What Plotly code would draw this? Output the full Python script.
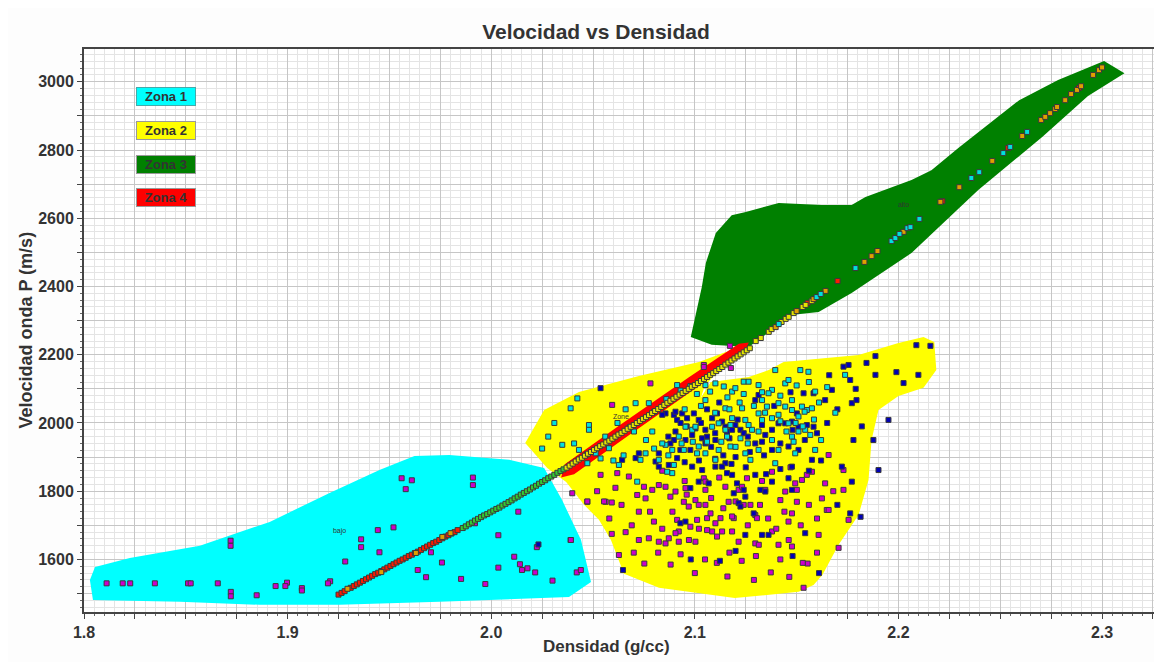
import plotly.graph_objects as go

# ---------------- zone outlines (density g/cc, velocity m/s) ----------------
zona1_x = [1.8029, 1.8054, 1.8225, 1.8569, 1.8912, 1.9206, 1.9451, 1.9623, 1.9794, 2.0088, 2.0260,
           2.0348, 2.0441, 2.0490, 2.0382, 2.0137, 1.9745, 1.9255, 1.8863, 1.8471, 1.8044]
zona1_y = [1540, 1578, 1604, 1640, 1710, 1795, 1862, 1903, 1906, 1892, 1868,
           1774, 1657, 1534, 1490, 1484, 1476, 1467, 1467, 1476, 1481]

zona2_x = [2.0167, 2.0260, 2.0431, 2.0725, 2.1020, 2.1152, 2.1206, 2.1049, 2.1029, 2.1078, 2.1265,
           2.1363, 2.1436, 2.1804, 2.2000, 2.2123, 2.2176, 2.2186, 2.2123, 2.2000, 2.1902, 2.1868,
           2.1853, 2.1804, 2.1706, 2.1627, 2.1583, 2.1510, 2.1196, 2.0824, 2.0652, 2.0588, 2.0529,
           2.0456, 2.0368, 2.0275]
zona2_y = [1941, 2038, 2091, 2138, 2179, 2208, 2214, 2108, 2073, 2120, 2135,
           2155, 2179, 2199, 2234, 2252, 2237, 2155, 2103, 2079, 2038, 1950,
           1833, 1730, 1643, 1555, 1525, 1505, 1487, 1517, 1558, 1657, 1716,
           1760, 1827, 1868]

zona3_x = [2.0980, 2.1005, 2.1034, 2.1054, 2.1103, 2.1181, 2.1250, 2.1412, 2.1623, 2.1770, 2.1838,
           2.2064, 2.2162, 2.2294, 2.2593, 2.2784, 2.3010, 2.3110, 2.2931, 2.2706, 2.2392, 2.2064,
           2.1770, 2.1608, 2.1461, 2.1377, 2.1265, 2.1083]
zona3_y = [2252, 2316, 2398, 2469, 2557, 2609, 2618, 2645, 2639, 2639, 2662,
           2712, 2741, 2806, 2946, 3005, 3061, 3025, 2958, 2838, 2683, 2498,
           2381, 2325, 2316, 2272, 2223, 2229]

zona4_x = [2.0343, 2.0363, 2.0627, 2.0971, 2.1216, 2.1265, 2.1245, 2.1020, 2.0676, 2.0407]
zona4_y = [1840, 1880, 1992, 2134, 2232, 2236, 2208, 2108, 1964, 1850]

zone_names = ["Zona 1", "Zona 2", "Zona 3", "Zona 4"]
zone_colors = ["#00ffff", "#ffff00", "#008000", "#ff0000"]
zone_borders = ["#44aaaa", "#999999", "#999999", "#999999"]

# ---------------- trend of points (coloured by class) ----------------
trend_red_x = [1.925, 1.9265, 1.928, 1.931, 1.9325, 1.934, 1.9355, 1.937, 1.9385, 1.940, 1.9415, 1.943,
               1.9445, 1.946, 1.9475, 1.949, 1.9505, 1.952, 1.9535, 1.955, 1.9565, 1.958, 1.9595, 1.961,
               1.9625, 1.964, 1.9655, 1.967, 1.9685, 1.970, 1.9715, 1.973, 1.9745, 1.976, 1.9775, 1.979,
               1.9805, 1.982, 1.9835,
               2.1554, 2.1701, 2.2216, 2.2539, 2.2887]
trend_red_y = [1497, 1502, 1507, 1517, 1522, 1527, 1532, 1537, 1542, 1547, 1552, 1557,
               1561, 1566, 1571, 1576, 1581, 1586, 1591, 1596, 1600, 1605, 1610, 1614,
               1619, 1623, 1628, 1633, 1638, 1643, 1648, 1652, 1657, 1662, 1667, 1671,
               1676, 1680, 1686,
               2352, 2416, 2650, 2806, 2982]

trend_orange_x = [1.9294, 1.946, 1.963, 1.976, 1.980,
                  2.1397, 2.1500, 2.1583, 2.1642, 2.1833, 2.1868, 2.1897, 2.2025, 2.2206, 2.2299,
                  2.2461, 2.2608, 2.2701, 2.2721, 2.2745, 2.2770, 2.2779, 2.2819, 2.2848, 2.2877,
                  2.2897, 2.2956, 2.2985, 2.3000]
trend_orange_y = [1514, 1563, 1619, 1666, 1677,
                  2281, 2328, 2363, 2387, 2472, 2489, 2504, 2560, 2648, 2691,
                  2768, 2841, 2888, 2897, 2908, 2920, 2926, 2946, 2964, 2976,
                  2987, 3020, 3034, 3042]

trend_green_x = [1.986, 1.9875, 1.989, 1.9905, 1.992, 1.9935, 1.995, 1.9965, 1.998, 1.9995, 2.001, 2.0025,
                 2.004, 2.0055, 2.007, 2.0085, 2.010, 2.0115, 2.013, 2.0145, 2.016, 2.0175, 2.019, 2.0205,
                 2.022, 2.0235, 2.025, 2.0265, 2.028, 2.0295, 2.031, 2.0325, 2.034, 2.0355,
                 2.047, 2.068, 2.080]
trend_green_y = [1692, 1697, 1703, 1708, 1714, 1719, 1724, 1729, 1733, 1738, 1743, 1748,
                 1752, 1758, 1763, 1768, 1773, 1779, 1784, 1790, 1795, 1800, 1805, 1811,
                 1816, 1822, 1827, 1832, 1838, 1843, 1848, 1854, 1859, 1864,
                 1908, 1987, 2033]

trend_yellow_x = [2.037, 2.0385, 2.040, 2.0415, 2.043, 2.0445, 2.046, 2.0475, 2.049, 2.0505, 2.052, 2.0535,
                  2.055, 2.0565, 2.058, 2.0595, 2.061, 2.0625, 2.064, 2.0655, 2.067, 2.0685, 2.070, 2.0715,
                  2.073, 2.0745, 2.076, 2.0775, 2.079, 2.0805, 2.082, 2.0835, 2.085, 2.0865, 2.088, 2.0895,
                  2.091, 2.0925, 2.094, 2.0955, 2.097, 2.0985, 2.100, 2.1015, 2.103, 2.1045, 2.106, 2.1075,
                  2.109, 2.1105, 2.112, 2.1135, 2.115, 2.1165, 2.118, 2.1195, 2.121, 2.1225, 2.124, 2.1255,
                  2.127,
                  2.1299, 2.1324, 2.1363, 2.1377, 2.1426, 2.1446, 2.1461, 2.1485, 2.1529, 2.1544, 2.1574]
trend_yellow_y = [1869, 1875, 1881, 1887, 1893, 1898, 1904, 1910, 1915, 1921, 1926, 1932,
                  1937, 1943, 1948, 1954, 1960, 1966, 1971, 1977, 1983, 1989, 1994, 2000,
                  2006, 2012, 2017, 2023, 2029, 2035, 2041, 2047, 2053, 2059, 2065, 2071,
                  2077, 2083, 2088, 2094, 2100, 2106, 2111, 2117, 2123, 2129, 2135, 2141,
                  2146, 2152, 2158, 2164, 2171, 2177, 2183, 2189, 2195, 2201, 2207, 2213,
                  2219,
                  2240, 2249, 2267, 2275, 2296, 2305, 2311, 2322, 2340, 2346, 2357]

trend_cyan_x = [2.1412, 2.1598, 2.1618, 2.1789, 2.1966, 2.1985, 2.2005, 2.2044, 2.2059, 2.2103,
                2.2358, 2.2397, 2.2515, 2.2549, 2.2632]
trend_cyan_y = [2290, 2369, 2378, 2454, 2533, 2542, 2554, 2571, 2574, 2598,
                2718, 2735, 2791, 2809, 2853]

# ---------------- clouds ----------------
cyan_x = [2.0423, 2.0390, 2.0480, 2.0480, 2.0407, 2.0349, 2.0431, 2.0513, 2.0537, 2.0472, 2.0578, 2.0627,
          2.0701, 2.0709, 2.0774, 2.0791, 2.0758, 2.0733, 2.0717, 2.0823, 2.0856, 2.0889, 2.0840, 2.0913,
          2.0978, 2.1052, 2.1052, 2.1101, 2.1142, 2.1183, 2.1199, 2.1240, 2.1264, 2.1313, 2.1379, 2.1395,
          2.1444, 2.1460, 2.1518, 2.1558, 2.1591, 2.1575, 2.1550, 2.1509, 2.1460, 2.1411, 2.1379, 2.1330,
          2.1281, 2.1232, 2.1224, 2.1313, 2.1379, 2.1411, 2.1477, 2.1485, 2.1509, 2.1591, 2.1395, 2.1273,
          2.1248, 2.1117, 2.1101, 2.1052, 2.1019, 2.0987, 2.0954, 2.1003, 2.0921, 2.0946, 2.0897, 2.0889,
          2.0864, 2.1738, 2.1011, 2.1150, 2.1175, 2.1183, 2.1248, 2.1264, 2.1313, 2.1330, 2.1354, 2.1362,
          2.1411, 2.1444, 2.1477, 2.1526, 2.1539, 2.1477, 2.1542, 2.1567, 2.1493, 2.1313, 2.1117, 2.1150,
          2.1085, 2.1158, 2.1175, 2.0280, 2.0250, 2.0310,
          2.0930, 2.1010, 2.1075, 2.1160, 2.1220, 2.1290, 2.1345, 2.1420, 2.1495, 2.1530, 2.1585, 2.1610,
          2.1620, 2.1450, 2.1260, 2.1200, 2.1130, 2.1060, 2.0990, 2.0935, 2.0870, 2.0800, 2.0760, 2.0650,
          2.0600, 2.0560, 2.0620, 2.0660, 2.0860, 2.0950, 2.1030, 2.1100, 2.1170, 2.1240, 2.1330, 2.1420,
          2.1500, 2.1560, 2.1650, 2.1690]
cyan_y = [2072, 2043, 1994, 1980, 1940, 1936, 1921, 1911, 1896, 1882, 1926, 1877,
          1975, 2058, 2058, 1975, 1911, 1892, 1828, 1892, 1936, 1921, 1940, 2111,
          2108, 2111, 2067, 2116, 2107, 2092, 2102, 2121, 2121, 2111, 2097, 2155,
          2116, 2126, 2155, 2150, 2092, 2043, 2038, 2019, 1999, 2024, 2014, 2009,
          1980, 2043, 1955, 1975, 1950, 1921, 1960, 1945, 1975, 1921, 1882, 1892,
          1911, 1921, 1892, 1911, 1931, 1980, 1989, 1989, 1960, 1921, 1877, 1853,
          1857, 2141, 1911, 1980, 1994, 2014, 2009, 1994, 2028, 2067, 2048, 2087,
          2058, 2048, 2067, 2048, 2033, 2038, 1980, 1965, 1911, 1921, 1999, 2043,
          1989, 1960, 1931, 1960, 1925, 2000,
          2095, 2085, 2092, 2075, 2060, 2050, 2030, 2005, 2000, 1990, 2010, 2060,
          1950, 1975, 1940, 1930, 1945, 1945, 1945, 1940, 1905, 1925, 1950, 1905,
          1890, 1960, 2000, 2040, 2070, 2040, 2050, 2030, 2040, 2085, 2090, 2080,
          2110, 2120, 2105, 2030]

blue_x = [2.0537, 2.0856, 2.0897, 2.0938, 2.0913, 2.0962, 2.0995, 2.1019, 2.1003, 2.1052, 2.1060, 2.1085,
          2.1109, 2.1134, 2.1150, 2.1158, 2.1183, 2.1199, 2.1224, 2.1240, 2.1101, 2.1052, 2.1036, 2.0987,
          2.0954, 2.0905, 2.0897, 2.0880, 2.0929, 2.0978, 2.1313, 2.1297, 2.1330, 2.1346, 2.1379, 2.1411,
          2.1444, 2.1477, 2.1501, 2.1509, 2.1550, 2.1583, 2.1534, 2.1583, 2.1640, 2.1673, 2.1771, 2.1730,
          2.1755, 2.1763, 2.1722, 2.1771, 2.1763, 2.0954, 2.0929, 2.1215, 2.1248, 2.1330, 2.1289, 2.1362,
          2.1542, 2.1068, 2.1158, 2.1183, 2.1207, 2.1240, 2.1248, 2.1224, 2.1191, 2.1150, 2.1134, 2.1101,
          2.1036, 2.0987, 2.0913, 2.0872, 2.0823, 2.1297, 2.1322, 2.1346, 2.1379, 2.1477, 2.1460, 2.1477,
          2.1575, 2.1509, 2.1460, 2.1379, 2.1297, 2.1330, 2.1019, 2.0978, 2.0643, 2.0709, 2.0725, 2.0807,
          2.0823, 2.0840, 2.0905, 2.1843, 2.1887, 2.1887, 2.1990, 2.2088, 2.2157, 2.2025, 2.2098, 2.1794,
          2.1951, 2.1877, 2.1902, 2.1814, 2.1779, 2.0232, 2.0647, 2.1123,
          2.0960, 2.1030, 2.1100, 2.1170, 2.1210, 2.1260, 2.1080, 2.1140, 2.1200, 2.1270, 2.1340, 2.1420,
          2.1480, 2.1540, 2.1600, 2.1650, 2.1700, 2.1620, 2.1560, 2.1420, 2.1350, 2.1250, 2.1180, 2.1100,
          2.1020, 2.0950, 2.0870, 2.0930, 2.1060, 2.1120, 2.1390, 2.1470, 2.1660, 2.1790, 2.1820, 2.1700,
          2.1480, 2.1200, 2.0980, 2.1610]
blue_y = [2102, 2028, 2024, 2028, 2009, 2014, 2028, 2009, 1984, 1980, 1960, 2014,
          2028, 2004, 1989, 1975, 1980, 1994, 1980, 1970, 1950, 1940, 1955, 1965,
          1950, 1975, 1950, 1940, 1921, 1921, 2082, 2067, 1994, 1965, 1980, 1999,
          1999, 2004, 2028, 1989, 1994, 1989, 2087, 2087, 2067, 2097, 2058, 2165,
          2170, 2126, 1872, 1828, 1735, 1711, 1706, 1765, 1672, 1672, 1735, 1672,
          1677, 1823, 1853, 1848, 1823, 1804, 1784, 1755, 1794, 1882, 1872, 1872,
          1862, 1872, 1897, 1877, 1872, 1848, 1804, 1799, 1828, 1804, 1838, 1872,
          1892, 1921, 1931, 1921, 1940, 1945, 1828, 1809, 1892, 1897, 1911, 1887,
          1911, 2024, 2033, 2176, 2196, 2141, 2149, 2228, 2226, 2117, 2141, 2067,
          2009, 1950, 1862, 1725, 1950, 1644, 1569, 1596,
          1990, 2000, 1970, 1955, 2010, 1960, 1930, 1905, 1900, 1915, 1905, 1940,
          1980, 1950, 1970, 2000, 2040, 1890, 1860, 1865, 1850, 1870, 1880, 1895,
          1890, 1885, 1960, 2000, 2040, 2060, 2050, 2090, 2140, 2100, 1990, 1760,
          1610, 1625, 1600, 1560]

magenta_x = [2.0782, 2.1044, 2.0594, 2.0398, 2.0537, 2.0619, 2.0562, 2.0472, 2.0390, 2.0676, 2.0717, 2.0725,
             2.0750, 2.0758, 2.0791, 2.0799, 2.0823, 2.0856, 2.0880, 2.0905, 2.0913, 2.0921, 2.0946, 2.0954,
             2.0970, 2.1003, 2.1011, 2.1019, 2.1044, 2.1052, 2.1052, 2.1060, 2.1077, 2.1085, 2.1101, 2.1109,
             2.1126, 2.1150, 2.1166, 2.1183, 2.1191, 2.1215, 2.1232, 2.1240, 2.1256, 2.1273, 2.1297, 2.1305,
             2.1346, 2.1379, 2.1420, 2.1444, 2.1460, 2.1477, 2.1493, 2.1501, 2.1526, 2.1550, 2.1575, 2.1624,
             2.1648, 2.1657, 2.1730, 2.0774, 2.0823, 2.0856, 2.0872, 2.0905, 2.0921, 2.0978, 2.1003, 2.1060,
             2.1134, 2.1183, 2.1215, 2.1297, 2.1379, 2.1411, 2.1477, 2.1501, 2.1640, 2.1052, 2.0752, 2.0881,
             2.1108, 2.1230, 2.1373, 2.1464, 2.1534, 2.1554, 2.0725, 2.0971, 2.1314, 2.1461, 2.1608, 2.1706,
             2.1755, 2.1657, 2.1730, 2.0627, 2.0554, 2.0592, 2.0592, 2.1172, 2.1044, 2.1177,
             2.0640, 2.0690, 2.0780, 2.0840, 2.0890, 2.0960, 2.1020, 2.1080, 2.1140, 2.1200, 2.1260, 2.1320,
             2.1360, 2.1400, 2.1440, 2.1520, 2.1560, 2.1600, 2.1680, 2.1600, 2.1530, 2.1420, 2.1300, 2.1170,
             2.1050, 2.0930, 2.0820, 2.0700, 2.0660, 2.0580, 2.0520, 2.0610, 2.1000, 2.1160, 2.1290, 2.0950,
             2.1120, 2.1330, 2.1470, 2.0840,
             # zona 1 area
             1.9443, 1.9520, 1.9361, 1.9361, 1.9451, 1.9283, 1.8997, 1.8989, 1.9070, 1.9070, 1.9209, 1.9198,
             1.9704, 1.9758, 1.9639, 1.9680, 1.9920, 2.0133, 2.0035, 2.0113, 2.0141, 2.0151, 2.0178, 2.0216,
             2.0224, 2.0035, 1.9852, 1.9971, 2.0301, 2.0391, 2.0420, 2.0440, 2.0472, 1.8111, 1.8190, 1.8227,
             1.8348, 1.8511, 1.8524, 1.8657, 1.8721, 1.8721, 1.8848, 1.8941, 1.8720, 1.8720, 1.9560, 1.9610,
             1.9580, 1.9910, 1.9910]
magenta_y = [2116, 2170, 2053, 1794, 1848, 1853, 1769, 1769, 1657, 1843, 1789, 1740,
             1813, 1779, 1804, 1711, 1818, 1813, 1784, 1799, 1716, 1682, 1769, 1809,
             1755, 1774, 1716, 1760, 1838, 1804, 1760, 1721, 1735, 1682, 1706, 1667,
             1721, 1813, 1769, 1682, 1721, 1804, 1813, 1760, 1838, 1760, 1730, 1721,
             1804, 1857, 1774, 1799, 1711, 1735, 1823, 1804, 1833, 1848, 1857, 1779,
             1745, 1906, 1862, 1662, 1652, 1647, 1662, 1677, 1652, 1696, 1652, 1686,
             1682, 1726, 1652, 1647, 1682, 1643, 1638, 1769, 1823, 1828, 1588, 1585,
             1590, 1596, 1562, 1549, 1517, 1588, 1657, 1657, 1643, 1657, 1672, 1634,
             1716, 1745, 1804, 1613, 1770, 1675, 1767, 2226, 2164, 2161,
             1760, 1700, 1740, 1690, 1740, 1790, 1690, 1780, 1750, 1770, 1700, 1760,
             1720, 1690, 1740, 1700, 1760, 1720, 1800, 1620, 1590, 1600, 1610, 1620,
             1600, 1615, 1620, 1620, 1680, 1720, 1800, 1810, 1560, 1550, 1540, 1830,
             1840, 1830, 1870, 1860,
             1686, 1694, 1659, 1636, 1621, 1594, 1532, 1522, 1516, 1509, 1536, 1530,
             1621, 1591, 1569, 1548, 1706, 1740, 1671, 1608, 1586, 1569, 1574, 1562,
             1636, 1576, 1543, 1528, 1538, 1657, 1562, 1569, 1770, 1530, 1530, 1530,
             1530, 1530, 1530, 1530, 1505, 1492, 1495, 1522, 1655, 1640, 1838, 1832,
             1806, 1840, 1818]

# ---------------- small map labels ----------------
label_text = ["bajo", "Zone", "alto"]
label_x = [1.9255, 2.0637, 2.2025]
label_y = [1683, 2018, 2639]

# ---------------- axis ticks ----------------
x_tickvals = [1.8, 1.825, 1.85, 1.875, 1.9, 1.925, 1.95, 1.975, 2.0, 2.025, 2.05, 2.075,
              2.1, 2.125, 2.15, 2.175, 2.2, 2.225, 2.25, 2.275, 2.3, 2.325]
x_ticktext = ["1.8", "", "", "", "1.9", "", "", "", "2.0", "", "", "",
              "2.1", "", "", "", "2.2", "", "", "", "2.3", ""]
y_tickvals = [1500, 1600, 1700, 1800, 1900, 2000, 2100, 2200, 2300, 2400, 2500, 2600, 2700, 2800, 2900, 3000]
y_ticktext = ["", "1600", "", "1800", "", "2000", "", "2200", "", "2400", "", "2600", "", "2800", "", "3000"]

FONT = "Arial, Liberation Sans, sans-serif"
TXT = "#333333"

fig = go.Figure()

for xs, ys, col in [(zona1_x, zona1_y, zone_colors[0]), (zona2_x, zona2_y, zone_colors[1]),
                    (zona3_x, zona3_y, zone_colors[2]), (zona4_x, zona4_y, zone_colors[3])]:
    fig.add_trace(go.Scatter(x=xs + xs[:1], y=ys + ys[:1], mode="lines", fill="toself",
                             fillcolor=col, line=dict(width=0, color=col),
                             hoverinfo="skip", showlegend=False))


def pts(xs, ys, col):
    fig.add_trace(go.Scatter(x=xs, y=ys, mode="markers", showlegend=False,
                             marker=dict(symbol="square", size=5, color=col,
                                         line=dict(width=1, color="#3a3a3a"))))


pts(magenta_x, magenta_y, "#cc00cc")
pts(blue_x, blue_y, "#0000b8")
pts(cyan_x, cyan_y, "#00e0e0")
pts(trend_red_x, trend_red_y, "#ff1a00")
pts(trend_green_x, trend_green_y, "#33cc33")
pts(trend_yellow_x, trend_yellow_y, "#e6e600")
pts(trend_orange_x, trend_orange_y, "#e0a000")
pts(trend_cyan_x, trend_cyan_y, "#00e0e0")

fig.add_trace(go.Scatter(x=label_x, y=label_y, mode="text", text=label_text, showlegend=False,
                         textfont=dict(family=FONT, size=7, color="#333333")))

annotations = []
legend_y = [0.9157, 0.8561, 0.7957, 0.7362]
for name, col, bcol, ly in zip(zone_names, zone_colors, zone_borders, legend_y):
    annotations.append(dict(xref="paper", yref="paper", x=0.0765, y=ly, xanchor="center", yanchor="middle",
                            text="<b>" + name + "</b>",
                            showarrow=False, bgcolor=col, bordercolor=bcol, borderwidth=1,
                            borderpad=1, width=56, height=15,
                            font=dict(family=FONT, size=13, color=TXT)))
annotations.append(dict(xref="paper", yref="paper", x=-0.055, y=0.5, xanchor="center", yanchor="middle",
                        textangle=-90, text="<b>Velocidad onda P (m/s)</b>", showarrow=False,
                        font=dict(family=FONT, size=18, color=TXT)))
annotations.append(dict(xref="paper", yref="paper", x=0.488, y=-0.062, xanchor="center", yanchor="middle",
                        text="<b>Densidad (g/cc)</b>", showarrow=False,
                        font=dict(family=FONT, size=17, color=TXT)))

fig.update_layout(
    width=1154, height=654,
    margin=dict(l=76, r=5, t=41, b=50),
    paper_bgcolor="#fdfdfd", plot_bgcolor="white",
    title=dict(text="<b>Velocidad vs Densidad</b>", x=0.5095, xanchor="center",
               y=0.9633, yanchor="middle", yref="container",
               font=dict(family=FONT, size=21, color=TXT)),
    annotations=annotations,
)

fig.update_xaxes(range=[1.8, 2.326], tickmode="array", tickvals=x_tickvals, ticktext=x_ticktext,
                 showgrid=True, gridcolor="#c6c6c6", gridwidth=1,
                 ticks="outside", ticklen=5, tickcolor="#444444",
                 showline=True, linecolor="#444444", linewidth=2, mirror=True, zeroline=False,
                 tickfont=dict(family=FONT, size=16, color=TXT, weight="bold"),
                 minor=dict(tickmode="linear", tick0=1.8, dtick=0.005, showgrid=True,
                            gridcolor="#e4e4e4", gridwidth=1, ticks="outside", ticklen=2,
                            tickcolor="#666666"))
fig.update_yaxes(range=[1446, 3096], tickmode="array", tickvals=y_tickvals, ticktext=y_ticktext,
                 showgrid=True, gridcolor="#c6c6c6", gridwidth=1,
                 ticks="outside", ticklen=5, tickcolor="#444444",
                 showline=True, linecolor="#444444", linewidth=2, mirror=True, zeroline=False,
                 tickfont=dict(family=FONT, size=16, color=TXT, weight="bold"),
                 minor=dict(tickmode="linear", tick0=1500, dtick=20, showgrid=True,
                            gridcolor="#e4e4e4", gridwidth=1, ticks="outside", ticklen=2,
                            tickcolor="#666666"))

fig.write_html("out.html")
